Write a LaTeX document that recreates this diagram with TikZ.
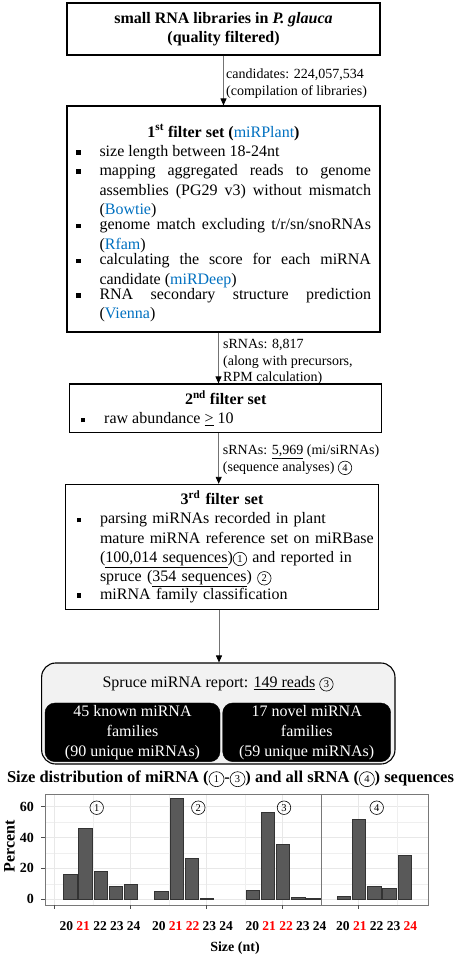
\documentclass[tikz,border=0pt]{standalone}
\usepackage{fontspec}
\setmainfont{Liberation Serif}
\usetikzlibrary{arrows.meta}
\definecolor{toolblue}{RGB}{0,112,192}
\definecolor{barfill}{RGB}{89,89,89}
\definecolor{gridgray}{RGB}{232,232,232}
\definecolor{panelgray}{RGB}{120,120,120}
\newlength{\itemextra}
\newcommand{\cnum}[2][13.5]{\tikz[baseline=(cn.base)]\node[draw,circle,line width=0.6pt,inner sep=0pt,minimum size=#1pt,font=\normalfont\fontsize{10.5}{10.5}\selectfont] (cn) {#2};}
\newcommand{\bitem}[2][\relax]{\par\noindent\makebox[23.5pt][l]{\rule[1.6pt]{4.7pt}{4.7pt}}\parbox[t]{\dimexpr\linewidth-23.5pt+\itemextra\relax}{#1\hyphenpenalty=10000 #2}\par}
\begin{document}
\begin{tikzpicture}[x=1pt,y=-1pt,
  stagebox/.style={draw,line width=1.1pt,rectangle,inner ysep=0pt,font=\fontsize{16}{19.3}\selectfont},
  flow/.style={draw=black!55,line width=0.9pt,-{Triangle[black,length=7pt,width=6pt]}},
  lbl/.style={anchor=west,inner sep=0pt,align=left,font=\fontsize{14}{16.5}\selectfont},
  famblock/.style={fill=black,draw=black,rounded corners=10pt,text=white,align=center,font=\fontsize{16}{20}\selectfont,minimum height=58.7pt,inner sep=0pt},
  bar/.style={fill=barfill,draw=black!80,line width=0.4pt},
  tag/.style={draw,circle,line width=0.6pt,inner sep=0pt,minimum size=13.5pt,font=\fontsize{10.5}{10.5}\selectfont},
  xlbl/.style={font=\bfseries\fontsize{13.5}{13.5}\selectfont,inner sep=0pt},
  ]
\useasboundingbox (0,0) rectangle (459,958);

\node[stagebox,minimum width=313pt,minimum height=52pt,align=center] (lib) at (223.5,29)
  {\textbf{small RNA libraries in \textit{P. glauca}}\\\textbf{(quality filtered)}};

\node[stagebox,text width=295pt,inner xsep=9pt,minimum height=226pt,align=justify] (filt1) at (223.5,219)
  {\noindent\makebox[\linewidth]{\rule{0pt}{21.5pt}\textbf{1\textsuperscript{st} filter set (}\textcolor{toolblue}{miRPlant}\textbf{)}}\par
   \bitem{size length between 18-24nt}
   \bitem{mapping aggregated reads to genome\linebreak assemblies (PG29 v3) without mismatch\linebreak (\textcolor{toolblue}{Bowtie})}
   \bitem{genome match excluding t/r/sn/snoRNAs\linebreak (\textcolor{toolblue}{Rfam})}
   \bitem{calculating the score for each miRNA\linebreak candidate (\textcolor{toolblue}{miRDeep})}
   \bitem{RNA secondary structure prediction\linebreak (\textcolor{toolblue}{Vienna})}};

\node[stagebox,text width=290pt,inner xsep=11pt,minimum height=48.7pt,align=justify] (filt2) at (225.7,408.3)
  {\noindent\makebox[\linewidth]{\textbf{2\textsuperscript{nd} filter set}}\par
   \bitem{raw abundance \underline{>} 10}};

\node[stagebox,text width=291pt,inner xsep=10.8pt,minimum height=124.7pt,align=left] (filt3) at (222,546.7)
  {\setlength{\itemextra}{7pt}\noindent\makebox[\linewidth]{\textbf{3\textsuperscript{rd} filter set}}\par
   \bitem[\raggedright]{parsing miRNAs recorded in plant\newline mature miRNA reference set on miRBase\newline (\underline{100,014 sequences})\cnum{1} and reported in\newline spruce (\underline{354 sequences}) \cnum{2}}
   \bitem[\raggedright]{miRNA family classification}};

\node[draw,line width=1.1pt,fill=black!5,rounded corners=14pt,minimum width=353.3pt,minimum height=101pt] (report) at (218.3,713.5) {};
\node[font=\fontsize{16}{19}\selectfont] (reptitle) at (218,684) {Spruce miRNA report: \underline{149 reads} \cnum{3}};
\node[famblock,minimum width=175pt] (known) at (132.5,732.3) {45 known miRNA\\families\\(90 unique miRNAs)};
\node[famblock,minimum width=168pt] (novel) at (306.7,732.3) {17 novel miRNA\\families\\(59 unique miRNAs)};

\node[lbl] (cand) at (226,83.5) {candidates: 224,057,534\\(compilation of libraries)};
\node[lbl] (srna1) at (223,362) {sRNAs: 8,817\\(along with precursors,\\RPM calculation)};
\node[lbl] (srna2) at (222.7,460) {sRNAs: \underline{5,969} (mi/siRNAs)\\(sequence analyses) \cnum{4}};

\draw[flow] (lib.south) -- (filt1.north);
\draw[flow] ([xshift=-5pt]filt1.south) -- ([xshift=-5pt]filt1.south |- filt2.north);
\draw[flow] ([xshift=-7pt]filt2.south) -- ([xshift=-7pt]filt2.south |- filt3.north);
\draw[flow] ([xshift=-3pt]filt3.south) -- ([xshift=-3pt]filt3.south |- report.north);

\node[font=\bfseries\fontsize{16.5}{18}\selectfont] (charttitle) at (230.5,779)
  {Size distribution of miRNA (\cnum[15]{1}-\cnum[15]{3}) and all sRNA (\cnum[15]{4}) sequences};

\foreach \v in {10,30,50}
  \draw[gridgray!70,line width=0.5pt] (45,{899.3-1.546*\v}) -- (428.3,{899.3-1.546*\v});
\foreach \v in {0,20,40,60}
  \draw[gridgray,line width=0.9pt] (45,{899.3-1.546*\v}) -- (428.3,{899.3-1.546*\v});
\foreach \k in {1.5,6.5,11.5,16.5,21.5}
  \draw[gridgray!70,line width=0.5pt] ({70+15.2*\k},794) -- ({70+15.2*\k},905);
\foreach \k in {-1,4,9,14,19}
  \draw[gridgray,line width=0.9pt] ({70+15.2*\k},794) -- ({70+15.2*\k},905);

\foreach \k/\h in {0/16.4,1/46.3,2/18.3,3/8.2,4/9.7,
                   6/5.4,7/65.3,8/26.5,9/0.5,
                   12/6,13/56.3,14/35.6,15/1.3,16/0.5,
                   18/2,19/51.7,20/8.5,21/7.3,22/28.3}
  \draw[bar] ({70+15.2*\k-6.7},899.3) rectangle ({70+15.2*\k+6.7},{899.3-1.546*\h});

\draw[panelgray,line width=0.9pt] (45,794) rectangle (428.3,905);
\draw[panelgray,line width=0.9pt] (321.7,794) -- (321.7,905);

\foreach \v in {0,20,40,60}{
  \draw[black!70,line width=0.8pt] (41,{899.3-1.546*\v}) -- (45,{899.3-1.546*\v});
  \node[anchor=east,inner sep=0pt,font=\bfseries\fontsize{14}{14}\selectfont] (ytick\v) at (34,{899.3-1.546*\v}) {\v};
}
\foreach \k in {-1,4,9,14,19}
  \draw[black!70,line width=0.8pt] ({70+15.2*\k},905) -- ({70+15.2*\k},909);

\node[tag] (mark1) at (96.7,807.7) {1};
\node[tag] (mark2) at (198.3,807.7) {2};
\node[tag] (mark3) at (284,807.7) {3};
\node[tag] (mark4) at (376.7,807.7) {4};

\node[xlbl] (grp1) at (100,926) {20 \textcolor{red}{21} 22 23 24};
\node[xlbl] (grp2) at (192.5,926) {20 \textcolor{red}{21} \textcolor{red}{22} 23 24};
\node[xlbl] (grp3) at (286,926) {20 \textcolor{red}{21} \textcolor{red}{22} 23 24};
\node[xlbl] (grp4) at (376.7,926) {20 \textcolor{red}{21} 22 23 \textcolor{red}{24}};

\node[rotate=90,font=\bfseries\fontsize{16}{16}\selectfont] (ylab) at (9.5,846) {Percent};
\node[font=\bfseries\fontsize{14}{14}\selectfont] (xlab) at (235,948) {Size (nt)};
\end{tikzpicture}
\end{document}
